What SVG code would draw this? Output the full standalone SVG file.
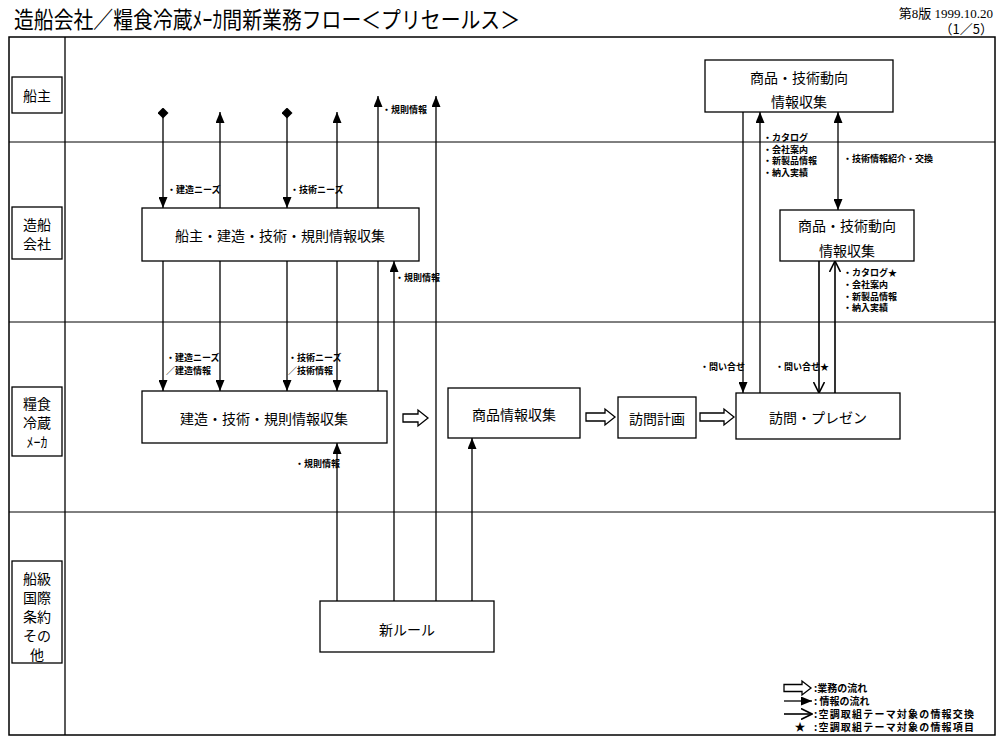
<svg xmlns="http://www.w3.org/2000/svg" width="1000" height="741" viewBox="0 0 1000 741">
<style>
.f{font-family:"Noto Sans CJK JP","Noto Sans",sans-serif;fill:#000}
.box{fill:#fff;stroke:#000;stroke-width:1.3}
.t{font-size:14px;text-anchor:middle;dominant-baseline:central}
.s{font-size:9px;font-weight:bold}
.lg{font-size:10px;font-weight:bold}
.ln{stroke:#000;stroke-width:1.3;fill:none}
.ar{marker-end:url(#ah)}
.dm{marker-start:url(#dia)}
.vx{marker-end:url(#vh);stroke-width:1.6}
.blk{fill:#fff;stroke:#000;stroke-width:1.3}
</style>
<defs>
<marker id="ah" viewBox="0 0 11 9" refX="11" refY="4.5" markerWidth="11" markerHeight="9" markerUnits="userSpaceOnUse" orient="auto-start-reverse"><path d="M0,0 L11,4.5 L0,9 Z" fill="#000"/></marker>
<marker id="dia" viewBox="0 0 10 10" refX="5" refY="5" markerWidth="11" markerHeight="11" markerUnits="userSpaceOnUse" orient="auto"><path d="M0,5 L5,0 L10,5 L5,10 Z" fill="#000"/></marker>
<marker id="vh" viewBox="0 0 12 12" refX="11" refY="6" markerWidth="12" markerHeight="12" markerUnits="userSpaceOnUse" orient="auto"><path d="M0,0.5 L11,6 L0,11.5" fill="none" stroke="#000" stroke-width="1.6"/></marker>
</defs>
<rect width="1000" height="741" fill="#fff"/>
<text class="f" x="14" y="28" font-size="23" textLength="506" lengthAdjust="spacingAndGlyphs">造船会社／糧食冷蔵ﾒｰｶ間新業務フロー＜プリセールス＞</text>
<text x="993" y="18" font-size="13" text-anchor="end" font-family="'Liberation Serif','Noto Sans CJK JP',serif">第8版 1999.10.20</text>
<text class="f" x="993" y="34" font-size="13" text-anchor="end">（1／5）</text>
<g id="frame">
<rect x="9" y="37" width="986" height="698" fill="none" stroke="#000" stroke-width="1.5"/>
<line x1="65" y1="37" x2="65" y2="735" stroke="#000" stroke-width="1.3"/>
<line x1="9" y1="142" x2="995" y2="142" stroke="#000" stroke-width="1"/>
<line x1="9" y1="322" x2="995" y2="322" stroke="#000" stroke-width="1"/>
<line x1="9" y1="512" x2="995" y2="512" stroke="#000" stroke-width="1"/>
</g>
<g id="lane-shipowner"><rect class="box" x="12" y="77" width="50" height="36"/><text class="f t" x="37" y="95">船主</text></g>
<g id="lane-shipyard"><rect class="box" x="12" y="207" width="50" height="52"/><text class="f t" x="37" y="224">造船</text><text class="f t" x="37" y="243">会社</text></g>
<g id="lane-maker"><rect class="box" x="12" y="387" width="50" height="69"/><text class="f t" x="37" y="403">糧食</text><text class="f t" x="37" y="422">冷蔵</text><text class="f t" x="37" y="441" font-size="12">ﾒｰｶ</text></g>
<g id="lane-class"><rect class="box" x="12" y="561" width="50" height="102"/><text class="f t" x="37" y="578">船級</text><text class="f t" x="37" y="597">国際</text><text class="f t" x="37" y="616">条約</text><text class="f t" x="37" y="635">その</text><text class="f t" x="37" y="654">他</text></g>
<g id="connectors">
<path class="ln dm ar" d="M163,113 V208"/>
<path class="ln ar" d="M220,208 V112"/>
<path class="ln dm ar" d="M287,113 V208"/>
<path class="ln ar" d="M337,208 V112"/>
<path class="ln ar" d="M378,391 V96"/>
<path class="ln ar" d="M436,601 V96"/>
<path class="ln ar" d="M394,601 V261"/>
<path class="ln ar" d="M337,601 V443"/>
<path class="ln ar" d="M472,601 V438"/>
<path class="ln ar" d="M163,261 V391"/>
<path class="ln ar" d="M220,261 V391"/>
<path class="ln ar" d="M287,261 V391"/>
<path class="ln ar" d="M337,261 V391"/>
<path class="ln ar" d="M743,112 V393"/>
<path class="ln ar" d="M760,393 V112"/>
<path class="ln ar" d="M838,112 V210" marker-start="url(#ah)"/>
<path class="ln vx" d="M819,261 V393"/>
<path class="ln vx" d="M835,393 V261"/>
<path class="blk" d="M403,414 H418 V410 L428,418 L418,426 V422 H403 Z"/>
<path class="blk" d="M586,413 H605 V409 L615,417 L605,425 V421 H586 Z"/>
<path class="blk" d="M700,413 H724 V409 L734,417 L724,425 V421 H700 Z"/>
</g>
<g id="labels">
<text class="f s" x="167" y="193">・建造ニーズ</text>
<text class="f s" x="290" y="193">・技術ニーズ</text>
<text class="f s" x="382" y="113">・規則情報</text>
<text class="f s" x="395" y="281">・規則情報</text>
<text class="f s" x="166" y="361">・建造ニーズ</text>
<text class="f s" x="166" y="374">／建造情報</text>
<text class="f s" x="288" y="361">・技術ニーズ</text>
<text class="f s" x="288" y="374">／技術情報</text>
<text class="f s" x="295" y="467">・規則情報</text>
<text class="f s" x="763" y="141">・カタログ</text>
<text class="f s" x="763" y="153">・会社案内</text>
<text class="f s" x="763" y="164">・新製品情報</text>
<text class="f s" x="763" y="176">・納入実績</text>
<text class="f s" x="843" y="162">・技術情報紹介・交換</text>
<text class="f s" x="843" y="276">・カタログ★</text>
<text class="f s" x="843" y="288">・会社案内</text>
<text class="f s" x="843" y="300">・新製品情報</text>
<text class="f s" x="843" y="311">・納入実績</text>
<text class="f s" x="700" y="370">・問い合せ</text>
<text class="f s" x="775" y="370">・問い合せ★</text>
</g>
<g id="n-shipowner-collect"><rect class="box" x="142" y="208" width="277" height="53"/><text class="f t" x="280" y="235">船主・建造・技術・規則情報収集</text></g>
<g id="n-maker-collect"><rect class="box" x="142" y="391" width="245" height="52"/><text class="f t" x="264" y="418">建造・技術・規則情報収集</text></g>
<g id="n-product"><rect class="box" x="448" y="388" width="132" height="50"/><text class="f t" x="514" y="414">商品情報収集</text></g>
<g id="n-plan"><rect class="box" x="618" y="397" width="78" height="41"/><text class="f t" x="657" y="418">訪問計画</text></g>
<g id="n-visit"><rect class="box" x="736" y="393" width="164" height="46"/><text class="f t" x="818" y="417">訪問・プレゼン</text></g>
<g id="n-trend-top"><rect class="box" x="705" y="60" width="188" height="52"/><text class="f t" x="799" y="77">商品・技術動向</text><text class="f t" x="799" y="101">情報収集</text></g>
<g id="n-trend-yard"><rect class="box" x="780" y="210" width="134" height="51"/><text class="f t" x="847" y="225">商品・技術動向</text><text class="f t" x="847" y="250">情報収集</text></g>
<g id="n-newrule"><rect class="box" x="320" y="601" width="174" height="51"/><text class="f t" x="407" y="629">新ルール</text></g>
<g id="legend">
<path class="blk" d="M784,684.5 H802 V681 L811,688 L802,695 V691.5 H784 Z"/>
<path class="ln ar" d="M784,701 H812"/>
<path class="ln vx" d="M784,714 H812"/>
<text class="f" x="800" y="731" font-size="11" text-anchor="middle">★</text>
<text class="f lg" x="814" y="691.5">:業務の流れ</text>
<text class="f lg" x="814" y="704.5">: 情報の流れ</text>
<text class="f lg" x="814" y="717.5" textLength="160">:空調取組テーマ対象の情報交換</text>
<text class="f lg" x="814" y="730.5" textLength="160">:空調取組テーマ対象の情報項目</text>
</g>
</svg>
